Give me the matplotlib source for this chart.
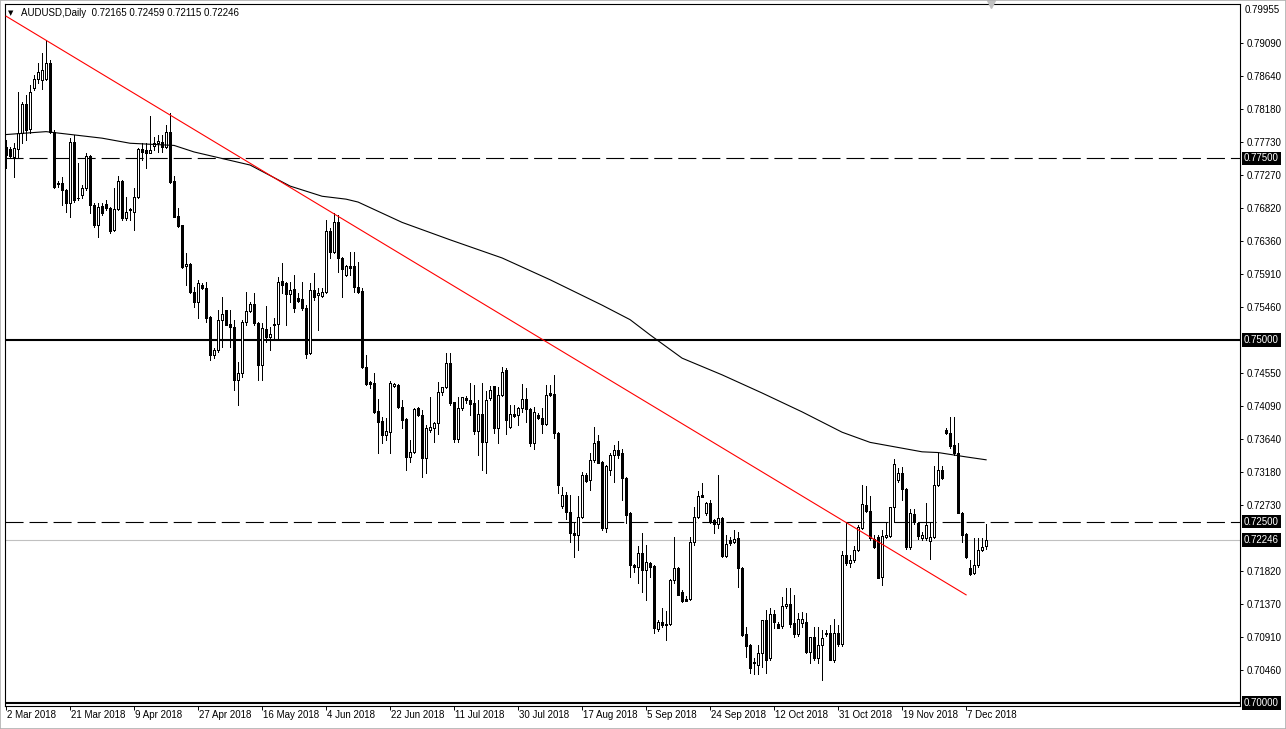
import matplotlib
matplotlib.use("Agg")
import matplotlib.pyplot as plt
import matplotlib.transforms as mtransforms
from matplotlib.patches import Rectangle

plt.rcParams['font.family'] = ['Liberation Sans', 'DejaVu Sans']
plt.rcParams['lines.scale_dashes'] = False

# AUDUSD daily candles, 2 Mar 2018 .. 13 Dec 2018
opens = [
    0.7766, 0.7763, 0.7752, 0.7763, 0.7785, 0.7825, 0.7791, 0.7847, 0.7860, 0.7858,
    0.7860, 0.7882, 0.7786, 0.7716, 0.7716, 0.7707, 0.7689, 0.7773, 0.7696, 0.7700,
    0.7709, 0.7753, 0.7686, 0.7658, 0.7685, 0.7687, 0.7682, 0.7652, 0.7680, 0.7719,
    0.7668, 0.7679, 0.7676, 0.7697, 0.7763, 0.7762, 0.7758, 0.7767, 0.7771, 0.7773,
    0.7766, 0.7786, 0.7719, 0.7671, 0.7658, 0.7602, 0.7605, 0.7566, 0.7552, 0.7576,
    0.7572, 0.7532, 0.7479, 0.7486, 0.7528, 0.7541, 0.7522, 0.7518, 0.7445, 0.7455,
    0.7525, 0.7540, 0.7550, 0.7523, 0.7466, 0.7515, 0.7504, 0.7522, 0.7522, 0.7581,
    0.7578, 0.7563, 0.7570, 0.7558, 0.7557, 0.7544, 0.7482, 0.7569, 0.7562, 0.7561,
    0.7566, 0.7650, 0.7621, 0.7663, 0.7613, 0.7590, 0.7602, 0.7602, 0.7573, 0.7567,
    0.7463, 0.7442, 0.7441, 0.7402, 0.7388, 0.7369, 0.7373, 0.7436, 0.7438, 0.7408,
    0.7391, 0.7339, 0.7346, 0.7406, 0.7397, 0.7338, 0.7376, 0.7379, 0.7386, 0.7429,
    0.7435, 0.7468, 0.7414, 0.7364, 0.7406, 0.7420, 0.7417, 0.7413, 0.7375, 0.7398,
    0.7360, 0.7420, 0.7436, 0.7379, 0.7424, 0.7459, 0.7380, 0.7398, 0.7397, 0.7406,
    0.7419, 0.7405, 0.7358, 0.7397, 0.7393, 0.7384, 0.7427, 0.7426, 0.7372, 0.7271,
    0.7286, 0.7263, 0.7234, 0.7231, 0.7256, 0.7314, 0.7307, 0.7335, 0.7361, 0.7332,
    0.7241, 0.7321, 0.7341, 0.7348, 0.7344, 0.7310, 0.7262, 0.7190, 0.7187, 0.7207,
    0.7183, 0.7193, 0.7189, 0.7102, 0.7112, 0.7109, 0.7109, 0.7169, 0.7186, 0.7153,
    0.7143, 0.7143, 0.7222, 0.7256, 0.7286, 0.7262, 0.7276, 0.7252, 0.7247, 0.7255,
    0.7203, 0.7225, 0.7222, 0.7227, 0.7186, 0.7095, 0.7080, 0.7055, 0.7052, 0.7069,
    0.7114, 0.7062, 0.7123, 0.7109, 0.7106, 0.7133, 0.7137, 0.7110, 0.7095, 0.7110,
    0.7112, 0.7070, 0.7091, 0.7062, 0.7080, 0.7096, 0.7096, 0.7059, 0.7096, 0.7081,
    0.7204, 0.7193, 0.7197, 0.7211, 0.7241, 0.7273, 0.7264, 0.7226, 0.7228, 0.7174,
    0.7229, 0.7230, 0.7270, 0.7307, 0.7317, 0.7295, 0.7215, 0.7261, 0.7248, 0.7227,
    0.7227, 0.7223, 0.7229, 0.7300, 0.7321, 0.7376, 0.7372, 0.7355, 0.7344, 0.7262,
    0.7233, 0.7186, 0.7179, 0.7190, 0.7211, 0.72165,
]
highs = [
    0.7775, 0.7766, 0.7771, 0.7842, 0.7828, 0.7837, 0.7851, 0.7865, 0.7882, 0.7895,
    0.7913, 0.7886, 0.7789, 0.7719, 0.7725, 0.7708, 0.7778, 0.7782, 0.7744, 0.7714,
    0.7758, 0.7755, 0.7689, 0.7689, 0.7689, 0.7693, 0.7683, 0.7709, 0.7726, 0.7721,
    0.7697, 0.7682, 0.7709, 0.7764, 0.7771, 0.7771, 0.7809, 0.7779, 0.7782, 0.7782,
    0.7796, 0.7813, 0.7726, 0.7682, 0.7659, 0.7620, 0.7606, 0.7573, 0.7583, 0.7578,
    0.7580, 0.7533, 0.7489, 0.7541, 0.7559, 0.7542, 0.7541, 0.7528, 0.7470, 0.7528,
    0.7566, 0.7552, 0.7565, 0.7525, 0.7523, 0.7547, 0.7518, 0.7530, 0.7587, 0.7606,
    0.7580, 0.7580, 0.7590, 0.7565, 0.7580, 0.7548, 0.7578, 0.7592, 0.7572, 0.7572,
    0.7665, 0.7654, 0.7675, 0.7672, 0.7614, 0.7603, 0.7621, 0.7621, 0.7607, 0.7572,
    0.7479, 0.7443, 0.7455, 0.7419, 0.7394, 0.7393, 0.7443, 0.7441, 0.7439, 0.7417,
    0.7392, 0.7362, 0.7406, 0.7408, 0.7404, 0.7383, 0.7422, 0.7387, 0.7442, 0.7435,
    0.7482, 0.7482, 0.7415, 0.7422, 0.7422, 0.7423, 0.7441, 0.7438, 0.7417, 0.7441,
    0.7430, 0.7436, 0.7437, 0.7435, 0.7463, 0.7462, 0.7410, 0.7410, 0.7408, 0.7439,
    0.7434, 0.7406, 0.7408, 0.7400, 0.7406, 0.7438, 0.7438, 0.7452, 0.7373, 0.7297,
    0.7290, 0.7286, 0.7248, 0.7285, 0.7318, 0.7317, 0.7344, 0.7380, 0.7369, 0.7333,
    0.7328, 0.7344, 0.7355, 0.7361, 0.7350, 0.7311, 0.7263, 0.7192, 0.7216, 0.7234,
    0.7218, 0.7194, 0.7190, 0.7114, 0.7131, 0.7127, 0.7171, 0.7229, 0.7187, 0.7156,
    0.7147, 0.7228, 0.7270, 0.7292, 0.7303, 0.7277, 0.7280, 0.7253, 0.7314, 0.7256,
    0.7232, 0.7229, 0.7238, 0.7235, 0.7187, 0.7105, 0.7081, 0.7062, 0.7080, 0.7114,
    0.7128, 0.7131, 0.7128, 0.7112, 0.7146, 0.7158, 0.7158, 0.7149, 0.7124, 0.7125,
    0.7124, 0.7091, 0.7105, 0.7105, 0.7101, 0.7101, 0.7107, 0.7116, 0.7107, 0.7209,
    0.7249, 0.7204, 0.7216, 0.7245, 0.7300, 0.7299, 0.7285, 0.7231, 0.7232, 0.7238,
    0.7249, 0.7270, 0.7336, 0.7324, 0.7325, 0.7296, 0.7267, 0.7267, 0.7249, 0.7235,
    0.7275, 0.7249, 0.7327, 0.7344, 0.7327, 0.7379, 0.7394, 0.7394, 0.7358, 0.7263,
    0.7234, 0.7197, 0.7227, 0.7227, 0.7227, 0.72459,
]
lows = [
    0.7737, 0.7751, 0.7725, 0.7751, 0.7771, 0.7775, 0.7785, 0.7844, 0.7854, 0.7846,
    0.7858, 0.7785, 0.7709, 0.7711, 0.7686, 0.7676, 0.7669, 0.7690, 0.7693, 0.7696,
    0.7707, 0.7675, 0.7656, 0.7642, 0.7672, 0.7679, 0.7647, 0.7650, 0.7679, 0.7665,
    0.7665, 0.7665, 0.7652, 0.7696, 0.7748, 0.7737, 0.7757, 0.7762, 0.7759, 0.7759,
    0.7764, 0.7716, 0.7669, 0.7656, 0.7599, 0.7576, 0.7565, 0.7546, 0.7530, 0.7570,
    0.7525, 0.7472, 0.7475, 0.7483, 0.7490, 0.7520, 0.7490, 0.7431, 0.7410, 0.7449,
    0.7521, 0.7538, 0.7521, 0.7445, 0.7445, 0.7497, 0.7486, 0.7503, 0.7503, 0.7565,
    0.7521, 0.7552, 0.7538, 0.7552, 0.7541, 0.7475, 0.7481, 0.7555, 0.7514, 0.7559,
    0.7565, 0.7613, 0.7620, 0.7594, 0.7559, 0.7588, 0.7590, 0.7566, 0.7565, 0.7462,
    0.7438, 0.7434, 0.7400, 0.7344, 0.7358, 0.7362, 0.7344, 0.7435, 0.7406, 0.7379,
    0.7321, 0.7332, 0.7344, 0.7395, 0.7311, 0.7317, 0.7373, 0.7360, 0.7371, 0.7424,
    0.7434, 0.7410, 0.7360, 0.7360, 0.7404, 0.7413, 0.7397, 0.7371, 0.7342, 0.7321,
    0.7317, 0.7417, 0.7372, 0.7358, 0.7423, 0.7371, 0.7379, 0.7394, 0.7383, 0.7401,
    0.7387, 0.7354, 0.7350, 0.7391, 0.7372, 0.7383, 0.7423, 0.7365, 0.7289, 0.7269,
    0.7254, 0.7222, 0.7201, 0.7211, 0.7255, 0.7305, 0.7293, 0.7332, 0.7330, 0.7238,
    0.7235, 0.7314, 0.7304, 0.7337, 0.7280, 0.7248, 0.7174, 0.7181, 0.7165, 0.7153,
    0.7142, 0.7174, 0.7096, 0.7099, 0.7105, 0.7087, 0.7108, 0.7166, 0.7149, 0.7139,
    0.7140, 0.7142, 0.7218, 0.7255, 0.7284, 0.7259, 0.7248, 0.7234, 0.7241, 0.7201,
    0.7201, 0.7218, 0.7221, 0.7160, 0.7093, 0.7063, 0.7041, 0.7040, 0.7040, 0.7050,
    0.7041, 0.7059, 0.7103, 0.7103, 0.7103, 0.7131, 0.7105, 0.7091, 0.7092, 0.7105,
    0.7069, 0.7055, 0.7059, 0.7055, 0.7032, 0.7092, 0.7059, 0.7056, 0.7079, 0.7079,
    0.7190, 0.7187, 0.7194, 0.7209, 0.7240, 0.7263, 0.7225, 0.7213, 0.7172, 0.7163,
    0.7227, 0.7229, 0.7249, 0.7304, 0.7280, 0.7212, 0.7212, 0.7247, 0.7226, 0.7225,
    0.7225, 0.7198, 0.7227, 0.7299, 0.7309, 0.7370, 0.7351, 0.7342, 0.7262, 0.7222,
    0.7200, 0.7176, 0.7178, 0.7187, 0.7209, 0.72115,
]
closes = [
    0.7755, 0.7753, 0.7764, 0.7785, 0.7825, 0.7789, 0.7842, 0.7860, 0.7869, 0.7872,
    0.7882, 0.7786, 0.7711, 0.7715, 0.7707, 0.7689, 0.7773, 0.7693, 0.7695, 0.7709,
    0.7753, 0.7686, 0.7658, 0.7683, 0.7675, 0.7682, 0.7650, 0.7680, 0.7719, 0.7668,
    0.7676, 0.7680, 0.7697, 0.7763, 0.7759, 0.7758, 0.7762, 0.7771, 0.7774, 0.7766,
    0.7786, 0.7718, 0.7670, 0.7657, 0.7600, 0.7605, 0.7566, 0.7552, 0.7578, 0.7572,
    0.7530, 0.7479, 0.7486, 0.7528, 0.7536, 0.7521, 0.7518, 0.7445, 0.7455, 0.7525,
    0.7540, 0.7550, 0.7523, 0.7466, 0.7517, 0.7504, 0.7508, 0.7521, 0.7580, 0.7576,
    0.7563, 0.7569, 0.7544, 0.7554, 0.7544, 0.7481, 0.7569, 0.7559, 0.7565, 0.7566,
    0.7650, 0.7621, 0.7663, 0.7613, 0.7598, 0.7602, 0.7599, 0.7573, 0.7566, 0.7463,
    0.7439, 0.7439, 0.7401, 0.7387, 0.7369, 0.7375, 0.7441, 0.7439, 0.7408, 0.7390,
    0.7339, 0.7346, 0.7405, 0.7397, 0.7338, 0.7379, 0.7380, 0.7386, 0.7428, 0.7435,
    0.7468, 0.7413, 0.7364, 0.7406, 0.7422, 0.7417, 0.7412, 0.7375, 0.7398, 0.7360,
    0.7417, 0.7431, 0.7379, 0.7424, 0.7456, 0.7390, 0.7398, 0.7395, 0.7406, 0.7419,
    0.7405, 0.7358, 0.7401, 0.7393, 0.7384, 0.7424, 0.7424, 0.7372, 0.7300, 0.7286,
    0.7263, 0.7234, 0.7231, 0.7256, 0.7314, 0.7306, 0.7335, 0.7358, 0.7331, 0.7241,
    0.7326, 0.7341, 0.7348, 0.7341, 0.7310, 0.7259, 0.7190, 0.7187, 0.7207, 0.7183,
    0.7194, 0.7187, 0.7103, 0.7112, 0.7108, 0.7108, 0.7169, 0.7186, 0.7149, 0.7140,
    0.7141, 0.7222, 0.7256, 0.7285, 0.7284, 0.7276, 0.7249, 0.7247, 0.7255, 0.7203,
    0.7219, 0.7220, 0.7226, 0.7186, 0.7094, 0.7079, 0.7048, 0.7056, 0.7069, 0.7114,
    0.7059, 0.7123, 0.7112, 0.7104, 0.7133, 0.7137, 0.7109, 0.7095, 0.7116, 0.7116,
    0.7070, 0.7091, 0.7062, 0.7080, 0.7090, 0.7095, 0.7059, 0.7096, 0.7081, 0.7204,
    0.7193, 0.7197, 0.7211, 0.7242, 0.7274, 0.7264, 0.7227, 0.7215, 0.7172, 0.7230,
    0.7231, 0.7270, 0.7329, 0.7317, 0.7295, 0.7215, 0.7262, 0.7249, 0.7230, 0.7231,
    0.7245, 0.7229, 0.7300, 0.7321, 0.7310, 0.7372, 0.7354, 0.7344, 0.7262, 0.7231,
    0.7201, 0.7178, 0.7190, 0.7211, 0.7215, 0.72246,
]

# moving average, read at a few bars
ma_bars = [0, 10, 24, 31, 42, 47, 61, 71, 79, 85, 88, 99, 111, 124, 136, 149,
           156, 161, 169, 179, 189, 199, 209, 216, 229, 233, 240, 245]
ma_values = [0.7783, 0.7787, 0.7778, 0.7771, 0.7768, 0.7759, 0.7741, 0.7712,
             0.7698, 0.7694, 0.7690, 0.7662, 0.7638, 0.7613, 0.7583, 0.7548,
             0.7528, 0.7507, 0.7475, 0.7452, 0.7427, 0.7401, 0.7373, 0.7359,
             0.7346, 0.7345, 0.7339, 0.7335]

# red trend line
trend_bars = [0, 240]
trend_prices = [0.7946, 0.7149]

dashed_levels = [0.7750, 0.7250]
solid_levels = [0.7500, 0.7000]
bid_price = 0.72246
marked_labels = ["0.77500", "0.75000", "0.72500", "0.72246", "0.70000"]
marked_prices = [0.7750, 0.7500, 0.7250, 0.72246, 0.7000]

price_ticks = [0.79090, 0.78640, 0.78180, 0.77730, 0.77270, 0.76820, 0.76360,
               0.75910, 0.75460, 0.74550, 0.74090, 0.73640, 0.73180, 0.72730,
               0.71820, 0.71370, 0.70910, 0.70460]
top_label = "0.79955"

date_bars = [0, 16, 32, 48, 64, 80, 96, 112, 128, 144, 160, 176, 192, 208, 224, 240]
date_labels = ["2 Mar 2018", "21 Mar 2018", "9 Apr 2018", "27 Apr 2018",
               "16 May 2018", "4 Jun 2018", "22 Jun 2018", "11 Jul 2018",
               "30 Jul 2018", "17 Aug 2018", "5 Sep 2018", "24 Sep 2018",
               "12 Oct 2018", "31 Oct 2018", "19 Nov 2018", "7 Dec 2018"]

W, H = 1286, 729
fig = plt.figure(figsize=(W / 100, H / 100), dpi=100)
fig.patch.set_facecolor("white")
ax = fig.add_axes([4.5 / W, (H - 706) / H, (1240 - 4.5) / W, (706 - 4) / H])
ax.set_facecolor("white")

bars = list(range(len(opens)))

# wicks
ax.vlines(bars, lows, highs, color="black", linewidth=0.72, zorder=2, antialiased=False)

# bodies
bottoms = [min(o, c) for o, c in zip(opens, closes)]
heights = [abs(c - o) for o, c in zip(opens, closes)]
faces = ["white" if c >= o else "black" for o, c in zip(opens, closes)]
ax.bar(bars, heights, bottom=bottoms, width=0.5, color=faces, edgecolor="black",
       linewidth=0.72, zorder=3, antialiased=False)

# levels
for lv in dashed_levels:
    ax.axhline(lv, color="black", linewidth=0.8, linestyle=(0, (13, 4.3)), zorder=1)
for lv in solid_levels:
    ax.axhline(lv, color="black", linewidth=1.5, zorder=1)
ax.axhline(bid_price, color="#c0c0c0", linewidth=0.8, zorder=1)

ax.plot(ma_bars, ma_values, color="black", linewidth=0.8, zorder=4)
ax.plot(trend_bars, trend_prices, color="red", linewidth=0.8, zorder=5)

ax.set_xlim(-0.4, -0.4 + (1240 - 4.5) / 4)
ax.set_ylim(0.69959, 0.79628)

# right price scale
ax.yaxis.tick_right()
ax.set_yticks(price_ticks)
ax.set_yticklabels(["%.5f" % p for p in price_ticks])
ax.tick_params(axis="y", direction="out", length=2.5, width=0.7, pad=2,
               labelsize=7, colors="black")
ax.text(1.0, 1.0, top_label, transform=ax.transAxes +
        mtransforms.ScaledTranslation(5 / 100, -6 / 100, fig.dpi_scale_trans),
        ha="left", va="center", fontsize=7)

blend = mtransforms.blended_transform_factory(ax.transAxes, ax.transData)
for lab, p in zip(marked_labels, marked_prices):
    ax.text(1.0, p, lab, transform=blend +
            mtransforms.ScaledTranslation(4 / 100, 0, fig.dpi_scale_trans),
            ha="left", va="center", fontsize=7, color="white", zorder=10,
            bbox=dict(boxstyle="square,pad=0.2", facecolor="black", edgecolor="none"),
            clip_on=False)

# date scale
ax.set_xticks(date_bars)
ax.set_xticklabels([""] * len(date_bars))
ax.tick_params(axis="x", direction="out", length=3, width=0.7)
xblend = ax.get_xaxis_transform()
for b, lab in zip(date_bars, date_labels):
    ax.text(b, 0, lab, transform=xblend +
            mtransforms.ScaledTranslation(1 / 100, -4 / 100, fig.dpi_scale_trans),
            ha="left", va="top", fontsize=7)

for s in ax.spines.values():
    s.set_color("black")
    s.set_linewidth(0.8)

# header
fig.text(8 / W, 1 - 13 / H, "\u25bc", fontsize=5, va="center", ha="left",
         family="DejaVu Sans")
fig.text(21 / W, 1 - 13 / H, "AUDUSD,Daily  0.72165 0.72459 0.72115 0.72246",
         fontsize=7, va="center", ha="left")

# chart shift marker
ax.plot([246.2], [1.0], marker="v", markersize=6, color="#c0c0c0",
        transform=mtransforms.blended_transform_factory(ax.transData, ax.transAxes),
        clip_on=False, zorder=6)

fig.patches.append(Rectangle((0, 0), 1, 1, transform=fig.transFigure, fill=False,
                             edgecolor="#b0b0b0", linewidth=1.2))

fig.savefig("out.png", dpi=100)
